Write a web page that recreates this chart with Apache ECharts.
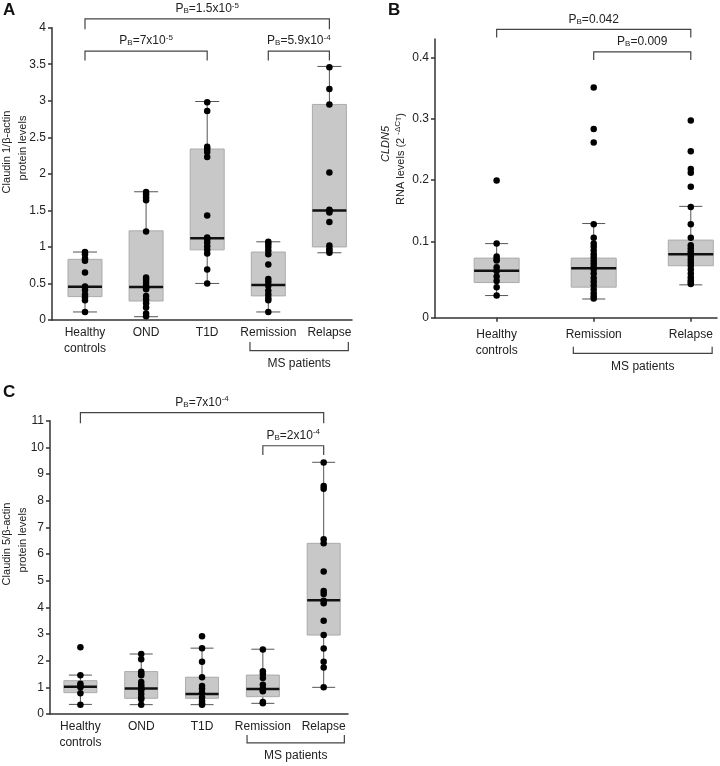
<!DOCTYPE html>
<html>
<head>
<meta charset="utf-8">
<script src="https://cdn.jsdelivr.net/npm/echarts@6.0.0/dist/echarts.min.js"></script>
<style>
  html, body { margin: 0; padding: 0; background: #fff; }
  #chart { width: 720px; height: 766px; }
</style>
</head>
<body>
<div id="chart"></div>
<script>
const FONT = '"Liberation Sans", Arial, Helvetica, sans-serif';

// ---- panel A: claudin 1 / beta-actin protein levels
const catsA = ['Healthy\ncontrols', 'OND', 'T1D', 'Remission', 'Relapse'];
// [min, q1, median, q3, max]
const boxA = [
  [0.11, 0.32, 0.455, 0.83, 0.93],
  [0.045, 0.26, 0.45, 1.22, 1.755],
  [0.50, 0.96, 1.12, 2.34, 2.99],
  [0.11, 0.33, 0.48, 0.93, 1.07],
  [0.92, 1.00, 1.50, 2.95, 3.47]
];
const a_healthy = [0.93, 0.90, 0.84, 0.81, 0.65, 0.46, 0.41, 0.35, 0.31, 0.27, 0.11];
const a_ond = [1.75, 1.72, 1.68, 1.64, 1.21, 0.58, 0.55, 0.51, 0.47, 0.44, 0.42, 0.33, 0.28, 0.23, 0.17, 0.09, 0.05];
const a_t1d = [2.98, 2.86, 2.37, 2.34, 2.30, 2.23, 1.43, 1.13, 1.10, 1.06, 1.01, 0.96, 0.91, 0.69, 0.50];
const a_remission = [1.07, 1.04, 1.00, 0.95, 0.90, 0.76, 0.56, 0.52, 0.47, 0.40, 0.35, 0.30, 0.27, 0.11];
const a_relapse = [3.46, 3.16, 2.95, 2.02, 1.51, 1.49, 1.47, 1.34, 1.02, 0.98, 0.95, 0.92];
const ticksA = [0, 0.5, 1, 1.5, 2, 2.5, 3, 3.5, 4];

// ---- panel B: CLDN5 RNA levels
const catsB = ['Healthy\ncontrols', 'Remission', 'Relapse'];
const boxB = [
  [0.029, 0.046, 0.0615, 0.078, 0.097],
  [0.0245, 0.040, 0.0647, 0.078, 0.129],
  [0.043, 0.068, 0.083, 0.102, 0.157]
];
const b_healthy = [0.199, 0.097, 0.080, 0.077, 0.075, 0.066, 0.061, 0.054, 0.048, 0.040, 0.029];
const b_remission = [0.351, 0.283, 0.261, 0.128, 0.106, 0.097, 0.093, 0.088, 0.083, 0.079, 0.075, 0.071, 0.067, 0.063, 0.058, 0.052, 0.047, 0.042, 0.037, 0.032, 0.028, 0.025];
const b_relapse = [0.297, 0.247, 0.218, 0.212, 0.189, 0.156, 0.128, 0.106, 0.095, 0.091, 0.087, 0.084, 0.080, 0.076, 0.072, 0.068, 0.063, 0.058, 0.053, 0.049, 0.046, 0.044];
const ticksB = [0, 0.1, 0.2, 0.3, 0.4];

// ---- panel C: claudin 5 / beta-actin protein levels
const catsC = ['Healthy\ncontrols', 'OND', 'T1D', 'Remission', 'Relapse'];
const boxC = [
  [0.36, 0.80, 1.02, 1.25, 1.46],
  [0.35, 0.59, 0.96, 1.59, 2.25],
  [0.35, 0.59, 0.75, 1.38, 2.47],
  [0.40, 0.65, 0.94, 1.46, 2.43],
  [1.00, 2.96, 4.27, 6.40, 9.44]
];
const c_healthy = [2.5, 1.45, 1.13, 1.05, 1.0, 0.78, 0.35];
const c_ond = [2.25, 2.05, 1.58, 1.52, 1.45, 1.2, 1.1, 1.02, 0.95, 0.88, 0.75, 0.62, 0.55, 0.35];
const c_t1d = [2.92, 2.47, 1.96, 1.38, 1.05, 0.95, 0.8, 0.62, 0.5, 0.4, 0.35];
const c_remission = [2.42, 1.6, 1.5, 1.35, 1.1, 0.95, 0.9, 0.85, 0.45, 0.4];
const c_relapse = [9.43, 8.55, 8.45, 6.55, 6.4, 5.34, 4.61, 4.5, 4.25, 4.15, 3.5, 2.96, 2.46, 1.96, 1.74, 1.0];
const ticksC = [0, 1, 2, 3, 4, 5, 6, 7, 8, 9, 10, 11];

// significance brackets: [x1, x2, yLine, yLegEnd] + label
const bracketsA = [[1, 5, 4.12, 3.98], [1, 3, 3.68, 3.55], [4, 5, 3.68, 3.55], [3.70, 5.31, -0.42, -0.30]];
const pA = [['1.5x10', '-5'], ['7x10', '-5'], ['5.9x10', '-4'], null];
const bracketsB = [[1, 3, 0.4457, 0.4326], [2, 3, 0.409, 0.3956], [1.79, 3.22, -0.0827, -0.0719]];
const pB = [['0.042', ''], ['0.009', ''], null];
const bracketsC = [[1, 5, 11.30, 10.90], [4, 5, 10.06, 9.71], [3.74, 5.34, -1.08, -0.79]];
const pC = [['7x10', '-4'], ['2x10', '-4'], null];

// B's y axis is stretched below 0.1 (0-0.1 is drawn taller than the other steps)
const B_LOW = 1.246;
function bY(v) { return v >= 0.1 ? v : 0.1 - (0.1 - v) * B_LOW; }

function dots(groups, f) {
  const out = [];
  groups.forEach((arr, i) => arr.forEach(v => out.push([i + 1, f ? f(v) : v])));
  return out;
}

const RICH = {
  n: { fontSize: 12, fontFamily: FONT, fill: '#222' },
  sub: { fontSize: 8, fontFamily: FONT, fill: '#222', padding: [4, 0, 0, 0] },
  sup: { fontSize: 8, fontFamily: FONT, fill: '#222', padding: [0, 0, 7, 0] }
};

function pText(p) {
  if (!p) return '{n|MS patients}';
  return '{n|P}{sub|B}{n|=' + p[0] + '}' + (p[1] ? '{sup|' + p[1] + '}' : '');
}

function renderBox(boxW, capW) {
  return function (params, api) {
    const x = api.value(0);
    const lo = api.coord([x, api.value(1)]);
    const q1 = api.coord([x, api.value(2)]);
    const md = api.coord([x, api.value(3)]);
    const q3 = api.coord([x, api.value(4)]);
    const hi = api.coord([x, api.value(5)]);
    const cx = lo[0];
    const wStyle = { stroke: '#555', lineWidth: 1 };
    return {
      type: 'group',
      children: [
        { type: 'line', shape: { x1: cx, y1: hi[1], x2: cx, y2: lo[1] }, style: wStyle },
        { type: 'line', shape: { x1: cx - capW / 2, y1: hi[1], x2: cx + capW / 2, y2: hi[1] }, style: wStyle },
        { type: 'line', shape: { x1: cx - capW / 2, y1: lo[1], x2: cx + capW / 2, y2: lo[1] }, style: wStyle },
        { type: 'rect', shape: { x: cx - boxW / 2, y: q3[1], width: boxW, height: q1[1] - q3[1] },
          style: { fill: '#c8c8c8', stroke: '#ababab', lineWidth: 1 } },
        { type: 'line', shape: { x1: cx - boxW / 2, y1: md[1], x2: cx + boxW / 2, y2: md[1] },
          style: { stroke: '#111', lineWidth: 2.5 } }
      ]
    };
  };
}

function renderBracket(labels) {
  return function (params, api) {
    const a = api.coord([api.value(0), api.value(3)]);
    const b = api.coord([api.value(0), api.value(2)]);
    const c = api.coord([api.value(1), api.value(2)]);
    const d = api.coord([api.value(1), api.value(3)]);
    const below = api.value(3) > api.value(2);
    return {
      type: 'group',
      children: [
        { type: 'polyline', shape: { points: [a, b, c, d] }, style: { stroke: '#444', lineWidth: 1.2, fill: 'none' } },
        { type: 'text', x: (b[0] + c[0]) / 2, y: b[1] + (below ? 13 : -10),
          style: { text: pText(labels[params.dataIndex]), rich: RICH, fill: '#222', font: '12px ' + FONT,
                   align: 'center', verticalAlign: 'middle' } }
      ]
    };
  };
}

function xAxisFor(gi, min, max, cats, showTicks, margin) {
  const pos = cats.map((c, i) => i + 1);
  return {
    type: 'value', gridIndex: gi, min: min, max: max,
    axisLine: { show: true, onZero: false, lineStyle: { color: '#333', width: 1.5 } },
    axisTick: { show: showTicks, length: 4, customValues: pos, lineStyle: { color: '#333', width: 1.5 } },
    axisLabel: { customValues: pos, formatter: v => cats[Math.round(v) - 1], margin: margin,
                 color: '#222', fontSize: 12, fontFamily: FONT, lineHeight: 16 },
    splitLine: { show: false }
  };
}

function yAxisFor(gi, min, max, ticks, fmt) {
  return {
    type: 'value', gridIndex: gi, min: min, max: max,
    axisLine: { show: true, onZero: false, lineStyle: { color: '#333', width: 1.5 } },
    axisTick: { show: true, length: 4, customValues: ticks, lineStyle: { color: '#333', width: 1.5 } },
    axisLabel: { customValues: ticks, formatter: fmt, margin: 6, color: '#222', fontSize: 12, fontFamily: FONT },
    splitLine: { show: false }
  };
}

const chart = echarts.init(document.getElementById('chart'), null, { renderer: 'canvas' });

const boxEncode = { x: 0, y: [1, 2, 3, 4, 5] };
const scatterStyle = { color: '#000', opacity: 1 };

const options = {
  animation: false,
  backgroundColor: '#fff',
  grid: [
    { left: 52, top: 27.7, width: 300, height: 292.3, outerBoundsMode: 'none' },
    { left: 435, top: 39, width: 282, height: 278.7, outerBoundsMode: 'none' },
    { left: 50, top: 420.7, width: 298, height: 293.3, outerBoundsMode: 'none' }
  ],
  xAxis: [
    xAxisFor(0, 0.46, 5.37, catsA, false, 5),
    xAxisFor(1, 0.365, 3.27, catsB, true, 9),
    xAxisFor(2, 0.5, 5.40, catsC, false, 5)
  ],
  yAxis: [
    yAxisFor(0, 0, 4, ticksA, v => String(v)),
    yAxisFor(1, bY(0), 0.43, ticksB.map(bY), v => (v < 0.05 ? '0' : v.toFixed(1))),
    yAxisFor(2, 0, 11, ticksC, v => String(v))
  ],
  series: [
    { type: 'custom', xAxisIndex: 0, yAxisIndex: 0, clip: false, encode: boxEncode, z: 2,
      renderItem: renderBox(34, 24), data: boxA.map((b, i) => [i + 1].concat(b)) },
    { type: 'scatter', xAxisIndex: 0, yAxisIndex: 0, symbolSize: 6.5, z: 3, itemStyle: scatterStyle,
      data: dots([a_healthy, a_ond, a_t1d, a_remission, a_relapse]) },
    { type: 'custom', xAxisIndex: 0, yAxisIndex: 0, clip: false, encode: { x: [0, 1], y: [2, 3] },
      renderItem: renderBracket(pA), data: bracketsA },

    { type: 'custom', xAxisIndex: 1, yAxisIndex: 1, clip: false, encode: boxEncode, z: 2,
      renderItem: renderBox(45, 23), data: boxB.map((b, i) => [i + 1].concat(b.map(bY))) },
    { type: 'scatter', xAxisIndex: 1, yAxisIndex: 1, symbolSize: 6.5, z: 3, itemStyle: scatterStyle,
      data: dots([b_healthy, b_remission, b_relapse], bY) },
    { type: 'custom', xAxisIndex: 1, yAxisIndex: 1, clip: false, encode: { x: [0, 1], y: [2, 3] },
      renderItem: renderBracket(pB), data: bracketsB },

    { type: 'custom', xAxisIndex: 2, yAxisIndex: 2, clip: false, encode: boxEncode, z: 2,
      renderItem: renderBox(33, 23), data: boxC.map((b, i) => [i + 1].concat(b)) },
    { type: 'scatter', xAxisIndex: 2, yAxisIndex: 2, symbolSize: 6.5, z: 3, itemStyle: scatterStyle,
      data: dots([c_healthy, c_ond, c_t1d, c_remission, c_relapse]) },
    { type: 'custom', xAxisIndex: 2, yAxisIndex: 2, clip: false, encode: { x: [0, 1], y: [2, 3] },
      renderItem: renderBracket(pC), data: bracketsC }
  ],
  graphic: [
    // panel letters
    { type: 'text', left: 3, top: 2, style: { text: 'A', font: 'bold 17px ' + FONT, fill: '#111' } },
    { type: 'text', left: 388, top: 2, style: { text: 'B', font: 'bold 17px ' + FONT, fill: '#111' } },
    { type: 'text', left: 3, top: 384, style: { text: 'C', font: 'bold 17px ' + FONT, fill: '#111' } },
    // y axis titles
    { type: 'text', x: 7, y: 152, rotation: Math.PI / 2,
      style: { text: 'Claudin 1/β-actin', font: '11px ' + FONT, fill: '#222', align: 'center', verticalAlign: 'middle' } },
    { type: 'text', x: 23, y: 148, rotation: Math.PI / 2,
      style: { text: 'protein levels', font: '11px ' + FONT, fill: '#222', align: 'center', verticalAlign: 'middle' } },
    { type: 'text', x: 386, y: 144, rotation: Math.PI / 2,
      style: { text: 'CLDN5', font: 'italic 11px ' + FONT, fill: '#222', align: 'center', verticalAlign: 'middle' } },
    { type: 'text', x: 401, y: 159, rotation: Math.PI / 2,
      style: { text: '{n|RNA levels (2 }{sup|-ΔC}{ss|T}{n|)}', fill: '#222', align: 'center', verticalAlign: 'middle',
        rich: {
          n: { fontSize: 11, fontFamily: FONT, fill: '#222' },
          sup: { fontSize: 8, fontFamily: FONT, fill: '#222', padding: [0, 0, 7, 0] },
          ss: { fontSize: 7, fontFamily: FONT, fill: '#222', padding: [0, 0, 3, 0] }
        } } },
    { type: 'text', x: 7, y: 544, rotation: Math.PI / 2,
      style: { text: 'Claudin 5/β-actin', font: '11px ' + FONT, fill: '#222', align: 'center', verticalAlign: 'middle' } },
    { type: 'text', x: 23, y: 540, rotation: Math.PI / 2,
      style: { text: 'protein levels', font: '11px ' + FONT, fill: '#222', align: 'center', verticalAlign: 'middle' } }
  ]
};

chart.setOption(options);
</script>
</body>
</html>
